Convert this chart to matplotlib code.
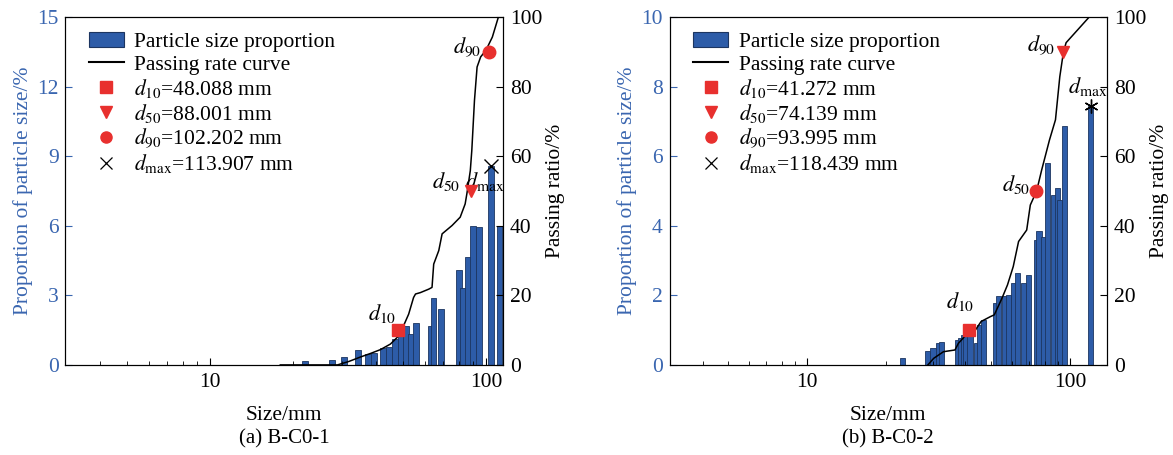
import matplotlib
matplotlib.use("Agg")
import matplotlib.pyplot as plt
import numpy as np
from matplotlib.lines import Line2D
from matplotlib.patches import Patch

plt.rcParams['font.family'] = ['Liberation Serif', 'DejaVu Serif']
plt.rcParams['mathtext.fontset'] = 'stix'
plt.rcParams['font.size'] = 15.5

# ---- panel (a) B-C0-1 ----
a_size = [22.2, 27.8, 30.6, 34.3, 37.5, 39.4, 42.5, 44.6, 46.9, 49.3, 51.3, 53.5,
          55.7, 63.2, 64.6, 68.6, 79.6, 82.8, 85.8, 90.0, 94.4, 104.0, 112.0]
a_prop = [0.17, 0.20, 0.35, 0.63, 0.46, 0.52, 0.72, 0.78, 1.11, 1.40, 1.69, 1.33,
          1.79, 1.69, 2.87, 2.41, 4.09, 3.34, 4.67, 6.01, 5.97, 8.60, 6.00]
a_curve_x = [18.0, 29.0, 31.9, 35.2, 38.2, 41.5, 45.1, 47.7, 49.7, 52.5, 54.7, 55.6,
             57.9, 62.1, 63.8, 64.7, 67.5, 69.4, 75.4, 80.7, 84.1, 85.3, 87.8, 88.9,
             90.9, 92.9, 95.7, 100.0, 105.5, 110.9]
a_curve_y = [0.0, 0.0, 1.0, 2.3, 3.3, 4.4, 6.0, 7.9, 10.3, 14.6, 19.4, 20.4,
             20.8, 21.8, 22.3, 29.0, 32.9, 37.7, 40.1, 42.5, 46.3, 49.2, 55.9, 61.7,
             76.1, 85.7, 88.6, 90.5, 94.3, 100.0]
a_d = [48.088, 88.001, 102.202]
a_dmax = 113.907
a_dmax_mark = (104.0, 8.6)
a_labels = ["48.088", "88.001", "102.202", "113.907"]

# ---- panel (b) B-C0-2 ----
b_size = [23.0, 28.7, 30.1, 31.5, 32.5, 37.2, 38.4, 39.5, 40.2, 41.6, 44.2, 45.3,
          47.0, 51.9, 53.6, 56.4, 58.2, 60.8, 63.3, 66.3, 69.5, 74.5, 76.2, 79.3,
          82.2, 86.4, 89.4, 91.4, 95.5, 119.7]
b_prop = [0.21, 0.40, 0.50, 0.62, 0.66, 0.72, 0.77, 0.86, 1.05, 0.86, 0.62, 1.15,
          1.28, 1.77, 1.97, 1.97, 2.00, 2.37, 2.64, 2.35, 2.59, 3.60, 3.85, 3.67,
          5.82, 4.89, 5.08, 4.75, 6.88, 7.45]
b_curve_x = [28.8, 30.3, 33.0, 36.5, 37.6, 40.2, 41.6, 43.7, 45.9, 49.8, 51.5, 55.1,
             57.8, 60.8, 63.7, 68.4, 70.6, 74.6, 78.0, 83.5, 88.0, 91.4, 94.4, 96.6,
             118.0]
b_curve_y = [0.0, 1.9, 3.8, 4.3, 6.2, 8.6, 9.6, 10.1, 12.5, 13.9, 14.4, 19.2,
             23.0, 28.3, 35.5, 38.8, 46.0, 50.0, 56.1, 64.7, 70.5, 82.9, 90.1, 92.7,
             100.0]
b_d = [41.272, 74.139, 93.995]
b_dmax = 118.439
b_dmax_mark = (119.7, 7.45)
b_labels = ["41.272", "74.139", "93.995", "118.439"]

blue = '#2d5ca8'
label_blue = '#3a66b0'
red = '#e8302e'

fig = plt.figure(figsize=(11.73, 4.55), dpi=100)


def panel(rect, size, prop, cx, cy, d, dmark, labels, ymax, ystep, xmax, hw,
          marks, dmax_marker, ann, caption):
    ax = fig.add_axes(rect)
    size = np.array(size)
    left = size * 10 ** (-hw)
    width = size * (10 ** hw - 10 ** (-hw))
    ax.bar(left, prop, width=width, align='edge', color=blue,
           edgecolor='#1c3560', linewidth=0.6)
    ax.set_xscale('log')
    ax.set_xlim(3, xmax)
    ax.set_ylim(0, ymax)
    ax.set_yticks(np.arange(0, ymax + 0.1, ystep))
    ax.set_xticks([10, 100])
    ax.set_xticklabels(['10', '100'])
    ax.tick_params(axis='both', which='both', direction='in')
    ax.tick_params(axis='x', which='major', length=5, pad=6)
    ax.tick_params(axis='x', which='minor', length=3)
    ax.tick_params(axis='y', colors=label_blue, length=5, pad=5)
    ax.tick_params(axis='x', colors='black')
    ax.spines['left'].set_color('black')
    ax.set_ylabel('Proportion of particle size/%', color=label_blue, labelpad=3)
    ax.set_xlabel('Size/mm', labelpad=10)
    ax.plot(*dmark, marker=dmax_marker, color='black', markersize=10,
            markeredgewidth=1.0, linestyle='none', zorder=5, clip_on=False)

    ax2 = ax.twinx()
    ax2.set_ylim(0, 100)
    ax2.set_yticks(np.arange(0, 101, 20))
    ax2.tick_params(axis='y', direction='in', length=5, pad=5)
    ax2.set_ylabel('Passing ratio/%', labelpad=3)
    ax2.plot(cx, cy, color='black', linewidth=1.1)
    for xv, yv, m in zip(d, [10, 50, 90], marks):
        ax2.plot(xv, yv, marker=m, color=red, markersize=9, linestyle='none',
                 zorder=5)

    for (tx, ty, s) in ann:
        ax.text(tx, ty, s, ha='center', va='center', fontsize=16)

    handles = [Patch(facecolor=blue, edgecolor='#1c3560', linewidth=0.8),
               Line2D([], [], color='black', linewidth=1.5),
               Line2D([], [], marker='s', color=red, linestyle='none', markersize=8),
               Line2D([], [], marker='v', color=red, linestyle='none', markersize=9),
               Line2D([], [], marker='o', color=red, linestyle='none', markersize=8),
               Line2D([], [], marker='x', color='black', linestyle='none',
                      markersize=9, markeredgewidth=0.9)]
    texts = ['Particle size proportion', 'Passing rate curve',
             '$d_{10}$=' + labels[0] + ' mm',
             '$d_{50}$=' + labels[1] + ' mm',
             '$d_{90}$=' + labels[2] + ' mm',
             '$d_{\\mathrm{max}}$=' + labels[3] + ' mm']
    ax.legend(handles, texts, loc='upper left', bbox_to_anchor=(0.02, 1.0),
              frameon=False, handlelength=1.6, handletextpad=0.5,
              labelspacing=0.1, borderaxespad=0.3, fontsize=15.5)
    fig.text(rect[0] + rect[2] / 2, 0.035, caption, ha='center', va='center',
             fontsize=15)
    return ax


panel([0.0558, 0.198, 0.373, 0.764], a_size, a_prop, a_curve_x, a_curve_y, a_d,
      a_dmax_mark, a_labels, 15, 3, 115.3, 0.0108, ['s', 'v', 'o'], 'x',
      [(42.0, 2.2, '$d_{10}$'), (71.6, 7.9, '$d_{50}$'),
       (99.0, 7.9, '$d_{\\mathrm{max}}$'), (85.5, 13.7, '$d_{90}$')],
      '(a) B-C0-1')
panel([0.5709, 0.198, 0.3727, 0.764], b_size, b_prop, b_curve_x, b_curve_y, b_d,
      b_dmax_mark, b_labels, 10, 2, 138, 0.0100, ['s', 'o', 'v'], (6, 2, 0),
      [(38.3, 1.82, '$d_{10}$'), (62.4, 5.2, '$d_{50}$'),
       (77.3, 9.2, '$d_{90}$'), (116.5, 8.0, '$d_{\\mathrm{max}}$')],
      '(b) B-C0-2')

fig.savefig('out.png', dpi=100)
